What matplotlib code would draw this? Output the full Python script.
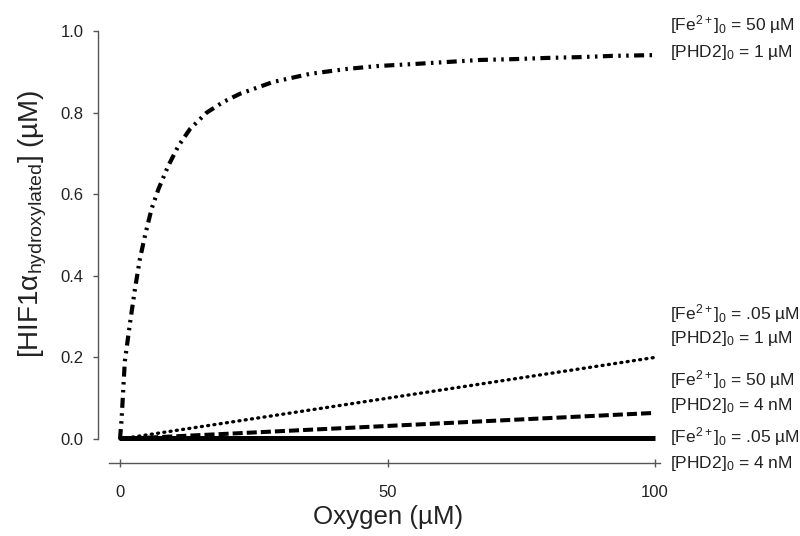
import matplotlib
matplotlib.use("Agg")
import matplotlib.pyplot as plt

plt.rcParams['font.family'] = ['Liberation Sans', 'DejaVu Sans']
plt.rcParams['mathtext.fontset'] = 'custom'
plt.rcParams['mathtext.rm'] = 'Liberation Sans'
plt.rcParams['mathtext.it'] = 'Liberation Sans:italic'
plt.rcParams['mathtext.bf'] = 'Liberation Sans:bold'

# ---- data ----
oxy_fast = [0, 0.3, 0.9, 1.9, 2.8, 3.7, 4.7, 5.9, 7.2, 9.0, 10.9, 13.1, 16.2, 19.3,
            22.4, 28.6, 35.5, 42.4, 48.0, 54.8, 61.1, 67.3, 73.5, 79.8, 86.0, 92.1, 100]
hif_fe50_phd1 = [0, 0.049, 0.19, 0.287, 0.368, 0.44, 0.50, 0.564, 0.613, 0.669, 0.718,
                 0.76, 0.80, 0.826, 0.846, 0.875, 0.895, 0.907, 0.914, 0.919, 0.924,
                 0.929, 0.931, 0.934, 0.936, 0.939, 0.941]

oxy_lin = [0, 25, 50, 75, 100]
hif_fe005_phd1 = [0, 0.05, 0.10, 0.15, 0.20]
hif_fe50_phd4n = [0, 0.016, 0.032, 0.048, 0.064]
hif_fe005_phd4n = [0.002, 0.002, 0.002, 0.002, 0.002]

xticks = [0, 50, 100]
yticks = [0.0, 0.2, 0.4, 0.6, 0.8, 1.0]

labels = [
    (r'[Fe$^{2+}$]$_0$ = 50 µM', r'[PHD2]$_0$ = 1 µM', 30, 57),
    (r'[Fe$^{2+}$]$_0$ = .05 µM', r'[PHD2]$_0$ = 1 µM', 319, 343),
    (r'[Fe$^{2+}$]$_0$ = 50 µM', r'[PHD2]$_0$ = 4 nM', 385, 410),
    (r'[Fe$^{2+}$]$_0$ = .05 µM', r'[PHD2]$_0$ = 4 nM', 442, 468),
]

W, H = 800, 536
fig = plt.figure(figsize=(8, 5.36), dpi=100)
left_px, right_px = 109.3, 660.35
top_px, bot_px = 31, 439
ax = fig.add_axes([left_px / W, (H - bot_px) / H, (right_px - left_px) / W, (bot_px - top_px) / H])

ax.plot(oxy_fast, hif_fe50_phd1, color='black', lw=3.0,
        linestyle=(0, (2.4, 1.3, 0.6, 1.3, 0.6, 1.3)), clip_on=False)
ax.plot(oxy_lin, hif_fe005_phd1, color='black', lw=2.4,
        linestyle=(0, (0.3, 1.6)), dash_capstyle='round', clip_on=False)
ax.plot(oxy_lin, hif_fe50_phd4n, color='black', lw=2.9,
        linestyle=(0, (2.5, 1.0)), clip_on=False)
ax.plot(oxy_lin, hif_fe005_phd4n, color='black', lw=3.6, solid_capstyle='butt', clip_on=False)

ax.set_xlim(-2, 101)
ax.set_ylim(0, 1.0)

for s in ['top', 'right']:
    ax.spines[s].set_visible(False)
sc = '#555555'
ax.spines['left'].set_position(('outward', 8.1))
ax.spines['bottom'].set_position(('outward', 17))
ax.spines['left'].set_bounds(0, 1.0)
ax.spines['bottom'].set_bounds(-2, 101)
for s in ['left', 'bottom']:
    ax.spines[s].set_color(sc)
    ax.spines[s].set_linewidth(1.0)

ax.set_xticks(xticks)
ax.set_xticklabels([str(v) for v in xticks])
ax.set_yticks(yticks)
ax.set_yticklabels([f'{v:.1f}' for v in yticks])
ax.tick_params(axis='y', direction='out', length=3.6, width=1.0, color=sc,
               labelsize=12, pad=7, labelcolor='#222222')
ax.tick_params(axis='x', direction='inout', length=6, width=1.0, color=sc,
               labelsize=12, pad=13, labelcolor='#222222')

fig.text(388 / W, 1 - 517 / H, 'Oxygen (µM)', fontsize=18.6, ha='center', va='center',
         color='#222222')
fig.text(33 / W, 1 - 224 / H, r'[HIF1α$_{\mathrm{hydroxylated}}$] (µM)', fontsize=20,
         rotation=90, ha='center', va='center', color='#222222')

for l1, l2, y1, y2 in labels:
    fig.text(670 / W, 1 - y1 / H, l1, fontsize=12.5, ha='left', va='baseline', color='#222222')
    fig.text(670 / W, 1 - y2 / H, l2, fontsize=12.5, ha='left', va='baseline', color='#222222')

fig.savefig('out.png', dpi=100)
